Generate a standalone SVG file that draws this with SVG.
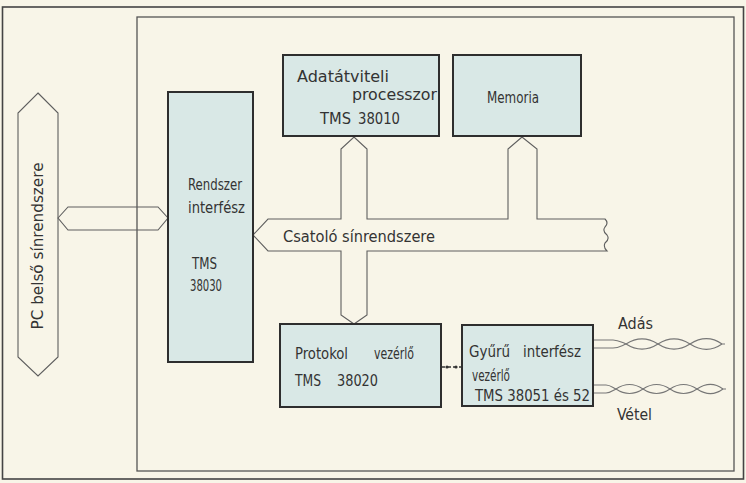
<svg xmlns="http://www.w3.org/2000/svg" width="746" height="483" viewBox="0 0 746 483">
<style>
.bg{fill:#f8f5e8}
.frame{fill:none;stroke:#555;stroke-width:1.3}
.box{fill:#d9e8e6;stroke:#2e2e2e;stroke-width:2}
.bus{fill:none;stroke:#5e5e5e;stroke-width:1.1;stroke-linejoin:miter}
.wire{fill:none;stroke:#777;stroke-width:1.1}
.t{font-family:"Liberation Sans Narrow","DejaVu Sans Condensed","Liberation Sans",sans-serif;font-size:16px;fill:#333}
</style>
<rect class="bg" x="0" y="0" width="746" height="483"/>
<rect class="frame" x="2.5" y="7" width="741" height="472" style="stroke:#444;stroke-width:1.6"/>
<rect class="frame" x="137" y="17" width="597" height="454"/>

<g id="connectors">
  <path id="pc-link" class="bus" d="M58 218 L68 207 L158 207 L168 218 L158 230 L68 230 Z"/>
  <path id="csatolo-bus" class="bus" d="M253 235 L268 219 L341 219 L341 149 L354 137 L367 149 L367 219 L508 219 L508 149 L522 137 L537 149 L537 219 L605 219 Q609 223 605 227 Q602 231 607 235 Q610 239 605 243 Q603 247 607 251 L367 251 L367 315 L354 324 L341 315 L341 251 L268 251 Z"/>
  <text class="t" x="283" y="242" textLength="152" lengthAdjust="spacingAndGlyphs">Csatoló sínrendszere</text>
  <g id="proto-gyuru-link">
    <line x1="441" y1="367" x2="462" y2="367" stroke="#333" stroke-width="1.5" stroke-dasharray="4 2"/>
    <circle cx="447" cy="367" r="1.6" fill="#333"/>
    <circle cx="456" cy="367" r="1.6" fill="#333"/>
  </g>
  <g id="ados-pair">
    <path class="wire" d="M593 340 L613 340 C618 340 621 342 626 344 C637 337 647 337 658 344 C669 337 679 337 690 344 C701 337 712 337 722 344 L725 344"/>
    <path class="wire" d="M593 348 L613 348 C618 348 621 346 626 344 C637 351 647 351 658 344 C669 351 679 351 690 344 C701 351 712 351 722 344"/>
    <text class="t" x="618" y="329" textLength="35" lengthAdjust="spacingAndGlyphs">Adás</text>
  </g>
  <g id="vetel-pair">
    <path class="wire" d="M593 385 L606 385 C610 385 612 387 616 389 C625 383 634 383 643 389 C652 383 661 383 670 389 C679 383 688 383 697 389 C706 383 715 383 723 389 L726 389"/>
    <path class="wire" d="M593 393 L606 393 C610 393 612 391 616 389 C625 395 634 395 643 389 C652 395 661 395 670 389 C679 395 688 395 697 389 C706 395 715 395 723 389"/>
    <text class="t" x="617" y="420" textLength="35" lengthAdjust="spacingAndGlyphs">Vétel</text>
  </g>
</g>

<g id="pc-bus">
  <path class="bus" d="M38 93 L58 113 L58 357 L38 376 L18 357 L18 113 Z"/>
  <text class="t" transform="translate(43 246) rotate(-90)" text-anchor="middle" textLength="167" lengthAdjust="spacingAndGlyphs">PC  belső  sínrendszere</text>
</g>

<g id="rendszer">
  <rect class="box" x="168" y="92" width="85" height="270"/>
  <text class="t" x="188" y="190" textLength="54" lengthAdjust="spacingAndGlyphs">Rendszer</text>
  <text class="t" x="188" y="213" textLength="57" lengthAdjust="spacingAndGlyphs">interfész</text>
  <text class="t" x="192" y="269" textLength="25" lengthAdjust="spacingAndGlyphs">TMS</text>
  <text class="t" x="190" y="291" textLength="32" lengthAdjust="spacingAndGlyphs">38030</text>
</g>

<g id="adat">
  <rect class="box" x="283" y="55" width="156" height="81"/>
  <text class="t" x="297" y="82" textLength="92" lengthAdjust="spacingAndGlyphs">Adatátviteli</text>
  <text class="t" x="352" y="100" textLength="85" lengthAdjust="spacingAndGlyphs">processzor</text>
  <text class="t" x="320" y="124" textLength="31" lengthAdjust="spacingAndGlyphs">TMS</text>
  <text class="t" x="358" y="124" textLength="42" lengthAdjust="spacingAndGlyphs">38010</text>
</g>

<g id="memoria">
  <rect class="box" x="453" y="55" width="128" height="81"/>
  <text class="t" x="487" y="103" textLength="52" lengthAdjust="spacingAndGlyphs">Memoria</text>
</g>

<g id="protokol">
  <rect class="box" x="280" y="324" width="161" height="83"/>
  <text class="t" x="295" y="359" textLength="53" lengthAdjust="spacingAndGlyphs">Protokol</text>
  <text class="t" x="374" y="359" textLength="40" lengthAdjust="spacingAndGlyphs">vezérlő</text>
  <text class="t" x="295" y="386" textLength="26" lengthAdjust="spacingAndGlyphs">TMS</text>
  <text class="t" x="337" y="386" textLength="41" lengthAdjust="spacingAndGlyphs">38020</text>
</g>

<g id="gyuru">
  <rect class="box" x="462" y="325" width="131" height="81"/>
  <text class="t" x="469" y="357" textLength="41" lengthAdjust="spacingAndGlyphs">Gyűrű</text>
  <text class="t" x="523" y="357" textLength="58" lengthAdjust="spacingAndGlyphs">interfész</text>
  <text class="t" x="472" y="381" textLength="38" lengthAdjust="spacingAndGlyphs">vezérlő</text>
  <text class="t" x="475" y="401" textLength="115" lengthAdjust="spacingAndGlyphs">TMS 38051 és 52</text>
</g>
</svg>
